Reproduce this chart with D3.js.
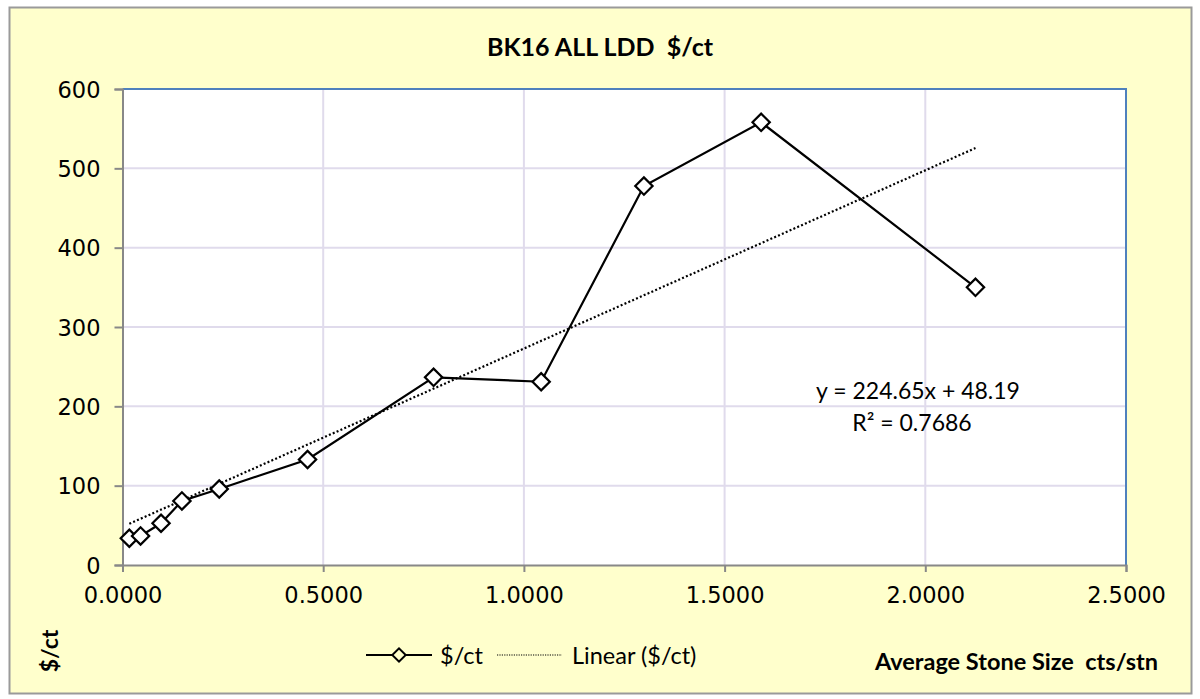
<!DOCTYPE html>
<html lang="en">
  <head>
    <script src="https://d3js.org/d3.v7.min.js"></script>
    <style>
      body {
        margin: 0;
        background: #fff;
      }
      .tick text {
        font-family: "DejaVu Sans", sans-serif;
        font-size: 22.5px;
        fill: #000;
      }
      .calib {
        font-family: Lato, "Open Sans", sans-serif;
      }
    </style>
  </head>

  <body>
    <svg width="1200" height="699"></svg>
    <script>
      // data
      var sizes = [0.017, 0.045, 0.096, 0.148, 0.241, 0.461, 0.775, 1.043, 1.299, 1.591, 2.125];
      var prices = [33.7, 36.6, 52.6, 80.7, 95.8, 133, 236.6, 231, 477.7, 558, 350];
      var xTicks = [0, 0.5, 1.0, 1.5, 2.0, 2.5];
      var yTicks = [0, 100, 200, 300, 400, 500, 600];
      // trendline as printed on the chart
      var slope = 224.65;
      var intercept = 48.19;
      var rSquared = 0.7686;

      var svg = d3.select("svg");

      // chart background + border
      svg
        .append("rect")
        .attr("x", 9.5)
        .attr("y", 7.5)
        .attr("width", 1182)
        .attr("height", 686)
        .attr("fill", "#FFFFCC")
        .attr("stroke", "#9a9a9a")
        .attr("stroke-width", 2);

      var pLeft = 122.5,
        pRight = 1126,
        pTop = 89,
        pBottom = 565;

      var x = d3.scaleLinear().domain([0, 2.5]).range([pLeft, pRight]);
      var y = d3.scaleLinear().domain([0, 600]).range([pBottom, pTop]);

      //plot area
      svg
        .append("rect")
        .attr("x", pLeft)
        .attr("y", pTop)
        .attr("width", pRight - pLeft)
        .attr("height", pBottom - pTop)
        .attr("fill", "#fff");

      //gridlines
      var grid = svg.append("g").attr("stroke", "#E0DBEC").attr("stroke-width", 2);
      grid
        .selectAll(".gx")
        .data(xTicks.slice(1, -1))
        .enter()
        .append("line")
        .attr("x1", (d) => x(d))
        .attr("x2", (d) => x(d))
        .attr("y1", pTop)
        .attr("y2", pBottom);
      grid
        .selectAll(".gy")
        .data(yTicks.slice(1, -1))
        .enter()
        .append("line")
        .attr("x1", pLeft)
        .attr("x2", pRight)
        .attr("y1", (d) => y(d))
        .attr("y2", (d) => y(d));

      // blue top/right border
      svg
        .append("path")
        .attr("d", "M" + pLeft + "," + pTop + "H" + pRight + "V" + pBottom)
        .attr("fill", "none")
        .attr("stroke", "#4F81BD")
        .attr("stroke-width", 2);

      //axes
      var yAxis = svg
        .append("g")
        .attr("transform", "translate(" + pLeft + ",0)")
        .call(d3.axisLeft(y).tickValues(yTicks).tickSizeOuter(0).tickSize(8).tickPadding(14));
      var xAxis = svg
        .append("g")
        .attr("transform", "translate(0," + pBottom + ")")
        .call(
          d3
            .axisBottom(x)
            .tickValues(xTicks)
            .tickFormat(d3.format(".4f"))
            .tickSizeOuter(0)
            .tickSize(7)
            .tickPadding(15)
        );
      [xAxis, yAxis].forEach(function (a) {
        a.select(".domain").attr("stroke", "#888").attr("stroke-width", 2);
        a.selectAll(".tick line").attr("stroke", "#888").attr("stroke-width", 2);
      });
      yAxis.selectAll(".tick text").attr("dy", "0.36em");

      //trendline
      var xMin = d3.min(sizes),
        xMax = d3.max(sizes);
      svg
        .append("line")
        .attr("x1", x(xMin))
        .attr("y1", y(slope * xMin + intercept))
        .attr("x2", x(xMax))
        .attr("y2", y(slope * xMax + intercept))
        .attr("stroke", "#000")
        .attr("stroke-width", 2.2)
        .attr("stroke-dasharray", "2,2.2");

      //data line
      var pts = sizes.map((d, i) => [d, prices[i]]);
      svg
        .append("path")
        .datum(pts)
        .attr("fill", "none")
        .attr("stroke", "#000")
        .attr("stroke-width", 2.2)
        .attr(
          "d",
          d3
            .line()
            .x((d) => x(d[0]))
            .y((d) => y(d[1]))
        );

      var diamond = d3.symbol().type(d3.symbolSquare).size(150);
      svg
        .selectAll(".mk")
        .data(pts)
        .enter()
        .append("path")
        .attr("d", diamond)
        .attr("transform", (d) => "translate(" + x(d[0]) + "," + y(d[1]) + ") rotate(45)")
        .attr("fill", "#fff")
        .attr("stroke", "#000")
        .attr("stroke-width", 2.2);

      //title
      svg
        .append("text")
        .attr("class", "calib")
        .attr("x", 600)
        .attr("y", 56)
        .attr("text-anchor", "middle")
        .attr("font-weight", "bold")
        .attr("font-size", "25px")
        .attr("xml:space", "preserve")
        .text("BK16 ALL LDD  $/ct");

      //equation label
      var eq = svg
        .append("text")
        .attr("class", "calib")
        .attr("text-anchor", "middle")
        .attr("font-size", "23px");
      eq.append("tspan")
        .attr("x", 918)
        .attr("y", 399)
        .text("y = " + slope + "x + " + intercept);
      eq.append("tspan")
        .attr("x", 912)
        .attr("y", 431)
        .text("R² = " + rSquared);

      //legend
      var lg = svg.append("g");
      lg.append("line")
        .attr("x1", 366)
        .attr("x2", 432)
        .attr("y1", 655)
        .attr("y2", 655)
        .attr("stroke", "#000")
        .attr("stroke-width", 2.2);
      lg.append("path")
        .attr("d", d3.symbol().type(d3.symbolSquare).size(90))
        .attr("transform", "translate(399,655) rotate(45)")
        .attr("fill", "#FFFFCC")
        .attr("stroke", "#000")
        .attr("stroke-width", 2);
      lg.append("text")
        .attr("class", "calib")
        .attr("x", 440)
        .attr("y", 664)
        .attr("font-size", "23.5px")
        .text("$/ct");
      lg.append("line")
        .attr("x1", 497)
        .attr("x2", 562)
        .attr("y1", 655)
        .attr("y2", 655)
        .attr("stroke", "#000")
        .attr("stroke-width", 1.2)
        .attr("stroke-dasharray", "1.2,1.2");
      lg.append("text")
        .attr("class", "calib")
        .attr("x", 572)
        .attr("y", 664)
        .attr("font-size", "23.5px")
        .text("Linear ($/ct)");

      //axis titles
      svg
        .append("text")
        .attr("class", "calib")
        .attr("x", 1158)
        .attr("y", 670)
        .attr("text-anchor", "end")
        .attr("font-weight", "bold")
        .attr("font-size", "23.5px")
        .attr("xml:space", "preserve")
        .text("Average Stone Size  cts/stn");
      svg
        .append("text")
        .attr("class", "calib")
        .attr("transform", "translate(58,651) rotate(-90)")
        .attr("text-anchor", "middle")
        .attr("font-weight", "bold")
        .attr("font-size", "23px")
        .text("$/ct");
    </script>
  </body>
</html>
